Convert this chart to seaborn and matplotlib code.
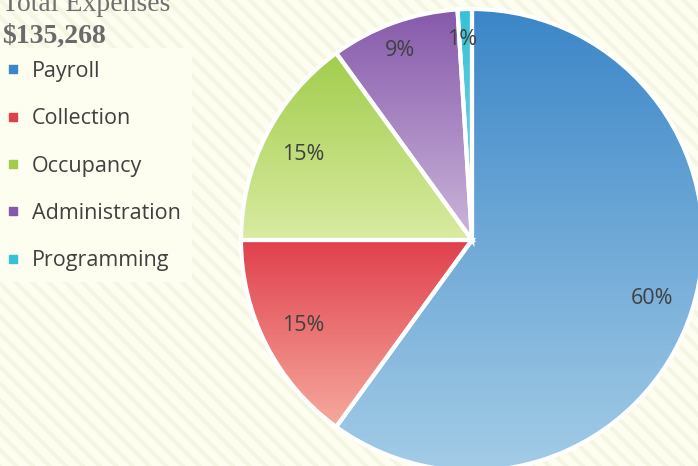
import numpy as np
import matplotlib
matplotlib.use("Agg")
import matplotlib.pyplot as plt
import seaborn as sns
from matplotlib.colors import LinearSegmentedColormap
from matplotlib.patches import Rectangle
from matplotlib.lines import Line2D

# Data
categories = ["Payroll", "Collection", "Occupancy", "Administration", "Programming"]
shares = [60, 15, 15, 9, 1]  # percent of total
total_label = "$135,268"

# gradient colours per slice (top, bottom)
top_colors = ["#3b86c8", "#e0404c", "#a2cd4c", "#8659ab", "#35c2d6"]
bottom_colors = ["#a3cce6", "#f6aa9e", "#d9eba2", "#ccb6da", "#8ad6e2"]

sns.set_theme(style="white")
plt.rcParams["font.family"] = ["Open Sans", "DejaVu Sans"]
plt.rcParams["hatch.linewidth"] = 3.0

cream = "#fdfef0"
fig = plt.figure(figsize=(6.98, 4.66), dpi=100, facecolor=cream)

# striped background and plain box behind the legend
fig.patches.append(Rectangle((0, 0), 1, 1, transform=fig.transFigure, facecolor=cream,
                             edgecolor="#f4f5e3", lw=0, hatch="\\\\", zorder=-10))
fig.patches.append(Rectangle((0, 1 - 282 / 466), 192 / 698, 234 / 466, transform=fig.transFigure,
                             facecolor=cream, edgecolor="none", zorder=-9))

ax = fig.add_axes([241 / 698, -5 / 466, 462 / 698, 462 / 466])
ax.axis("off")

wedges, texts, autotexts = ax.pie(
    shares, startangle=90, counterclock=False, radius=1,
    autopct="%1.0f%%", pctdistance=0.82,
    wedgeprops=dict(edgecolor="white", linewidth=3),
    textprops=dict(color="#404040", fontsize=15.5),
)

# vertical gradient fill, clipped to each wedge
for w, c_top, c_bot in zip(wedges, top_colors, bottom_colors):
    ext = w.get_path().get_extents()
    cmap = LinearSegmentedColormap.from_list("g", [c_bot, c_top])
    grad = np.linspace(0, 1, 256).reshape(-1, 1)
    im = ax.imshow(grad, cmap=cmap, origin="lower", aspect="auto",
                   extent=(ext.x0, ext.x1, ext.y0, ext.y1), zorder=1)
    im.set_clip_path(w)
    w.set_facecolor("none")
    w.set_zorder(2)

# pie() and imshow() reset the limits, so fix them afterwards
ax.set_xlim(-1, 1)
ax.set_ylim(-1, 1)
ax.set_aspect("equal")

# small slices get their labels pushed outward
for t, s in zip(autotexts, shares):
    t.set_zorder(3)
    if s < 10:
        x, y = t.get_position()
        t.set_position((x * 0.87 / 0.82 - 0.015, y * 0.87 / 0.82))

handles = [Line2D([], [], marker="s", linestyle="none", markersize=6,
                  markerfacecolor=c, markeredgecolor=c) for c in top_colors]
fig.legend(handles, categories, loc="upper left", bbox_to_anchor=(7 / 698, 1 - 61 / 466),
           frameon=False, fontsize=15.5, labelcolor="#404040", borderpad=0, borderaxespad=0,
           handlelength=0.6, handletextpad=0.55, labelspacing=1.22)

fig.text(2 / 698, 1 - 11 / 466, "Total Expenses", family="Liberation Serif", fontsize=20,
         color="#707070", va="baseline", ha="left")
fig.text(2 / 698, 1 - 43 / 466, total_label, family="Liberation Serif", fontsize=20,
         fontweight="bold", color="#6a6a6a", va="baseline", ha="left")

fig.savefig("out.png", dpi=100, facecolor=cream)
